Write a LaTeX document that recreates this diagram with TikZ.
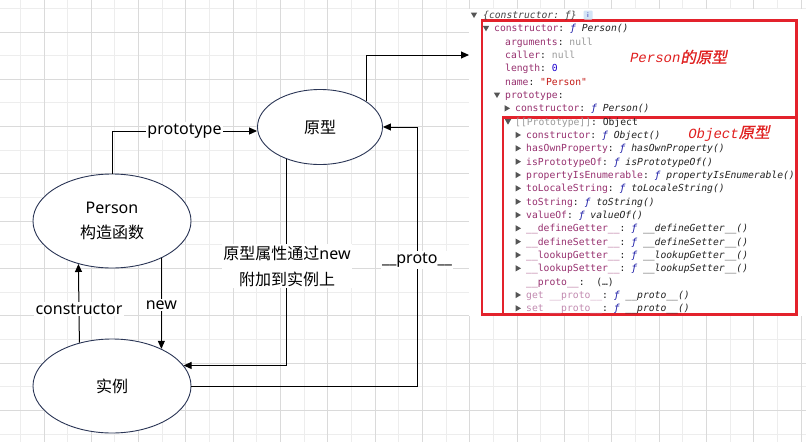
\documentclass[tikz,border=0pt]{standalone}
\usepackage{fontspec}
\setmainfont{Noto Sans}
\setmonofont{DejaVu Sans Mono}
\newfontfamily\cjk{Noto Sans CJK SC}
\newfontfamily\redlat{Liberation Mono}
\newfontfamily\redcjk[FakeSlant=0.2,FakeBold=1]{Noto Sans CJK SC}
\usetikzlibrary{arrows.meta,shapes.geometric,calc}
\definecolor{gridl}{HTML}{EDEDED}
\definecolor{gridd}{HTML}{DADADA}
\definecolor{ellc}{HTML}{2B3656}
\definecolor{boxred}{HTML}{E3222C}
\definecolor{labred}{HTML}{E02020}
\definecolor{keyc}{HTML}{97306F}
\definecolor{lkeyc}{HTML}{C28AB0}
\definecolor{greyc}{HTML}{9A9A9A}
\definecolor{fblue}{HTML}{1A1AA6}
\definecolor{numblue}{HTML}{1C00CF}
\definecolor{strred}{HTML}{C41A16}
\definecolor{punc}{HTML}{222222}
\definecolor{hdrc}{HTML}{444444}
\definecolor{trigc}{HTML}{555555}
\definecolor{infobg}{HTML}{D3E4F6}
\newcommand\ckey[1]{\textcolor{keyc}{#1}}
\newcommand\clkey[1]{\textcolor{lkeyc}{#1}}
\newcommand\cfn{\textcolor{fblue}{\itshape ƒ}}
\newcommand\cit[1]{{\itshape #1}}
\newcommand\cnul[1]{\textcolor{greyc}{#1}}
\newcommand\cgr[1]{\textcolor{greyc}{#1}}
\newcommand\cnum[1]{\textcolor{numblue}{#1}}
\newcommand\cstr[1]{\textcolor{strred}{#1}}
\newcommand\crow[4]{\node[ct] (#1) at (#2,{15+13.333*#3+3.4}) {#4};}
\newcommand\tridown[2]{\fill[trig] ({#1-3.2},{15+13.333*#2-2.5}) -- ({#1+3.2},{15+13.333*#2-2.5}) -- (#1,{15+13.333*#2+3}) -- cycle;}
\newcommand\triright[2]{\fill[trig] ({#1-2.5},{15+13.333*#2-3.2}) -- ({#1-2.5},{15+13.333*#2+3.2}) -- ({#1+3},{15+13.333*#2}) -- cycle;}
\begin{document}
\begin{tikzpicture}[x=1pt,y=-1pt,
  ell/.style={ellipse,draw=ellc,line width=0.9pt,fill=white,inner sep=0pt,minimum width=158pt,minimum height=94pt,font=\fontsize{16}{25}\selectfont,align=center},
  conn/.style={draw=black,line width=1pt,-{Triangle[length=8pt,width=7pt]}},
  lbl/.style={fill=white,inner sep=1.5pt,font=\fontsize{16}{26}\selectfont,align=center},
  ct/.style={anchor=base west,inner sep=0pt,font=\ttfamily\fontsize{9.7}{11}\selectfont,text=punc},
  trig/.style={fill=trigc},
  redbox/.style={draw=boxred,line width=2.4pt}]
\useasboundingbox (0,0) rectangle (806,442);
\fill[white] (0,0) rectangle (806,442);
% grid
\foreach \j in {0,...,16} {
  \draw[gridl,line width=1pt] ({20.33+47.33*\j},0) -- ({20.33+47.33*\j},442);
}
\foreach \j in {0,...,9} {
  \draw[gridl,line width=1pt] (0,{8.33+47.33*\j}) -- (806,{8.33+47.33*\j});
}
\foreach \j in {0,...,16} {
  \draw[gridd,line width=1pt] ({44+47.33*\j},0) -- ({44+47.33*\j},442);
}
\foreach \j in {0,...,8} {
  \draw[gridd,line width=1pt] (0,{32+47.33*\j}) -- (806,{32+47.33*\j});
}
% console screenshot
\fill[white] (469,9) rectangle (806,316);
\draw[redbox] (482,20.5) rectangle (796.5,314.5);
\draw[redbox] (503,117.5) rectangle (796.5,314.5);
\tridown{474}{0}
\tridown{486}{1}
\tridown{497}{6}
\triright{507}{7}
\tridown{508}{8}
\foreach \k in {9,...,19,21,22} { \triright{518}{\k} }
\crow{r0}{483}{0}{\textcolor{hdrc}{\itshape \{constructor: ƒ\}}}
\node[fill=infobg,rounded corners=1pt,inner sep=0pt,minimum width=9pt,minimum height=9pt,text=fblue,font=\sffamily\fontsize{7}{7}\selectfont] (info) at (588,15) {i};
\crow{r1}{494}{1}{\ckey{constructor}: \cfn\ \cit{Person()}}
\crow{r2}{505}{2}{\ckey{arguments}: \cnul{null}}
\crow{r3}{505}{3}{\ckey{caller}: \cnul{null}}
\crow{r4}{505}{4}{\ckey{length}: \cnum{0}}
\crow{r5}{505}{5}{\ckey{name}: \cstr{"Person"}}
\crow{r6}{505}{6}{\ckey{prototype}:}
\crow{r7}{515}{7}{\ckey{constructor}: \cfn\ \cit{Person()}}
\crow{r8}{515}{8}{\cgr{[[Prototype]]}: Object}
\crow{r9}{526}{9}{\ckey{constructor}: \cfn\ \cit{Object()}}
\crow{r10}{526}{10}{\ckey{hasOwnProperty}: \cfn\ \cit{hasOwnProperty()}}
\crow{r11}{526}{11}{\ckey{isPrototypeOf}: \cfn\ \cit{isPrototypeOf()}}
\crow{r12}{526}{12}{\ckey{propertyIsEnumerable}: \cfn\ \cit{propertyIsEnumerable()}}
\crow{r13}{526}{13}{\ckey{toLocaleString}: \cfn\ \cit{toLocaleString()}}
\crow{r14}{526}{14}{\ckey{toString}: \cfn\ \cit{toString()}}
\crow{r15}{526}{15}{\ckey{valueOf}: \cfn\ \cit{valueOf()}}
\crow{r16}{526}{16}{\ckey{\_\_defineGetter\_\_}: \cfn\ \cit{\_\_defineGetter\_\_()}}
\crow{r17}{526}{17}{\ckey{\_\_defineSetter\_\_}: \cfn\ \cit{\_\_defineSetter\_\_()}}
\crow{r18}{526}{18}{\ckey{\_\_lookupGetter\_\_}: \cfn\ \cit{\_\_lookupGetter\_\_()}}
\crow{r19}{526}{19}{\ckey{\_\_lookupSetter\_\_}: \cfn\ \cit{\_\_lookupSetter\_\_()}}
\crow{r20}{526}{20}{\ckey{\_\_proto\_\_}:\ \ (…)}
\crow{r21}{526}{21}{\clkey{get \_\_proto\_\_}: \cfn\ \cit{\_\_proto\_\_()}}
\crow{r22}{526}{22}{\clkey{set \_\_proto\_\_}: \cfn\ \cit{\_\_proto\_\_()}}
\node[text=labred,inner sep=0pt] (plbl) at (678.5,57) {{\redlat\fontsize{14}{14}\selectfont\itshape Person}{\redcjk\fontsize{15.5}{16}\selectfont 的原型}};
\node[text=labred,inner sep=0pt] (olbl) at (729,133) {{\redlat\fontsize{14}{14}\selectfont\itshape Object}{\redcjk\fontsize{15.5}{16}\selectfont 原型}};
% diagram
\node[ell] (person) at (112,221) {Person\\{\cjk 构造函数}};
\node[ell,minimum width=125pt,minimum height=75pt] (proto) at (320,127) {{\cjk 原型}};
\node[ell] (inst) at (112,386) {{\cjk 实例}};
\coordinate (cin) at (469,55);
\coordinate (pr) at (417,386);
\draw[conn] (person.north) |- ([yshift=-4pt]proto.west) node[lbl,pos=0.75] (lproto) {prototype};
\draw[conn] (proto.29) |- (cin);
\draw[conn] (inst.east) -- (pr) |- (proto.east);
\node[lbl] (l__proto) at (417,260) {\_\_proto\_\_};
\draw[conn] (proto.224) |- (inst.16.5);
\node[lbl] (lnew2) at (287,266) {{\cjk 原型属性通过}new\\{\cjk 附加到实例上}};
\draw[conn] (person.-37) -- (inst.37) node[lbl,pos=0.52] (lnew) {new};
\draw[conn] (inst.127.7) -- (person.232.3) node[lbl,pos=0.43] (lcons) {constructor};
\end{tikzpicture}
\end{document}
